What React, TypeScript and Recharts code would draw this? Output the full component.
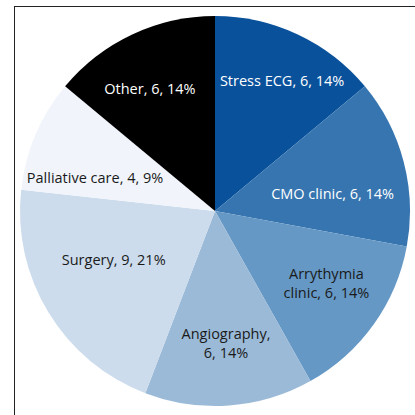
import { PieChart, Pie, Cell } from "recharts";

const categorias = [
  "Stress ECG",
  "CMO clinic",
  "Arrythymia clinic",
  "Angiography",
  "Surgery",
  "Palliative care",
  "Other",
];
const valores = [6, 6, 6, 6, 9, 4, 6];
const colores = ["#0a519b", "#3675b0", "#6598c5", "#9bbad8", "#ccdcec", "#f1f5fb", "#000000"];
const coloresTexto = ["#ffffff", "#ffffff", "#1a1a1a", "#1a1a1a", "#1a1a1a", "#1a1a1a", "#ffffff"];
// etiquetas que van en dos líneas
const saltos: Record<string, boolean> = { "Arrythymia clinic": true, Angiography: true };
// ajuste fino de cada etiqueta: [fracción del radio, giro en grados]
const ajustes = [
  [0.755, -2],
  [0.61, -6],
  [0.678, 3],
  [0.678, 0.6],
  [0.575, -6],
  [0.64, 7],
  [0.713, 2.8],
];

const total = valores.reduce((a, b) => a + b, 0);
const datos = categorias.map((c, i) => ({ nombre: c, valor: valores[i] }));

const RAD = Math.PI / 180;

function Etiqueta(props: any) {
  const { cx, cy, midAngle, outerRadius, index } = props;
  const [f, giro] = ajustes[index];
  const r = outerRadius * f;
  const a = (midAngle + giro) * RAD;
  const x = cx + r * Math.cos(-a);
  const y = cy + r * Math.sin(-a);
  const d = datos[index];
  const pct = Math.round((d.valor / total) * 100);
  let lineas = [`${d.nombre}, ${d.valor}, ${pct}%`];
  if (saltos[d.nombre]) {
    const partes = d.nombre.split(" ");
    lineas =
      partes.length > 1
        ? [partes[0], `${partes.slice(1).join(" ")}, ${d.valor}, ${pct}%`]
        : [`${d.nombre},`, `${d.valor}, ${pct}%`];
  }
  const alto = 19;
  const y0 = y - ((lineas.length - 1) * alto) / 2;
  return (
    <text
      x={x}
      y={y0}
      fill={coloresTexto[index]}
      textAnchor="middle"
      dominantBaseline="central"
      fontFamily="'Open Sans', sans-serif"
      fontSize={14.5}
    >
      {lineas.map((l, i) => (
        <tspan key={i} x={x} dy={i === 0 ? 0 : alto}>
          {l}
        </tspan>
      ))}
    </text>
  );
}

export default function App() {
  return (
    <div style={{ position: "absolute", left: 0, top: 0, width: 415, height: 415, background: "#fff", overflow: "hidden" }}>
      <div
        style={{
          position: "absolute",
          left: 14,
          top: 6,
          width: 420,
          height: 420,
          borderLeft: "1px solid #222",
          borderTop: "1px solid #222",
        }}
      />
      <div style={{ position: "absolute", left: 0, top: 0 }}>
        <PieChart width={415} height={415} margin={{ top: 0, right: 0, bottom: 0, left: 0 }}>
          <Pie
            data={datos}
            dataKey="valor"
            nameKey="nombre"
            cx={215}
            cy={211}
            outerRadius={195}
            startAngle={90}
            endAngle={-270}
            stroke="none"
            label={Etiqueta}
            labelLine={false}
            isAnimationActive={false}
          >
            {datos.map((d, i) => (
              <Cell key={d.nombre} fill={colores[i]} />
            ))}
          </Pie>
        </PieChart>
      </div>
    </div>
  );
}
